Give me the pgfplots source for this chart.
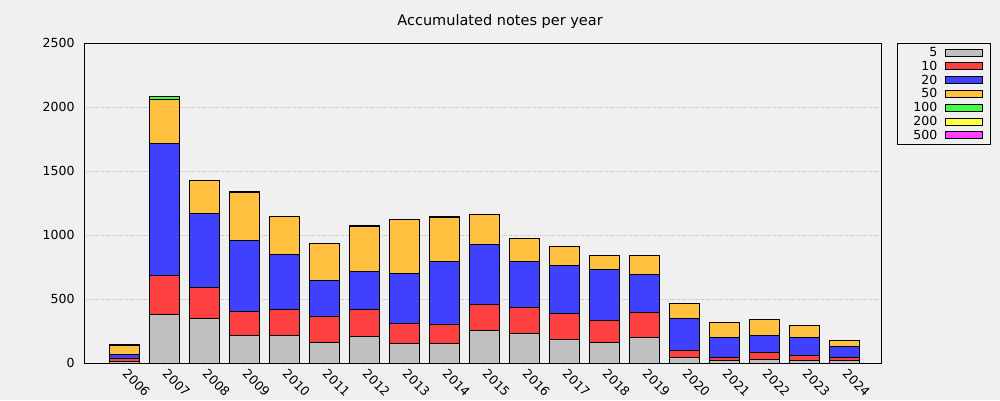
\documentclass[border=0pt]{standalone}
\usepackage{pgfplots}
\pgfplotsset{compat=1.18}
\usepackage{pgfplotstable}
\usepackage{fontspec}
\setmainfont{DejaVu Sans}
\definecolor{bg}{HTML}{F0F0F0}
\definecolor{cA}{HTML}{C0C0C0}
\definecolor{cB}{HTML}{FF4040}
\definecolor{cC}{HTML}{4040FF}
\definecolor{cD}{HTML}{FFC040}
\definecolor{cE}{HTML}{40FF40}
\definecolor{cF}{HTML}{FFFF40}
\definecolor{cG}{HTML}{FF40FF}
\pgfplotstableread{
year a b c d e f g
2006 10 27 31 70 8 0 0
2007 380 305 1031 346 22 0 0
2008 349 242 578 253 0 0 0
2009 216 188 554 375 8 0 0
2010 216 203 430 292 0 0 0
2011 162 203 281 289 0 0 0
2012 208 211 297 354 8 0 0
2013 154 156 391 422 0 0 0
2014 154 148 492 344 10 0 0
2015 255 203 469 235 0 0 0
2016 232 203 359 180 0 0 0
2017 185 203 375 148 0 0 0
2018 162 171 399 109 0 0 0
2019 201 195 297 148 0 0 0
2020 44 55 250 117 0 0 0
2021 21 23 157 117 0 0 0
2022 29 54 133 125 0 0 0
2023 21 39 141 93 0 0 0
2024 21 23 86 47 0 0 0
}\data
\newcommand{\lt}[1]{\makebox[31pt][r]{#1}}
\begin{document}
\begin{tikzpicture}
\fill[bg] (0,0) rectangle (1000pt,400pt);
\useasboundingbox (0,0) rectangle (1000pt,400pt);
\begin{axis}[
  at={(84pt,37pt)}, anchor=south west,
  scale only axis, width=797pt, height=320pt,
  axis background/.style={fill=bg},
  ybar stacked, bar width=30pt,
  xmin=2005, xmax=2024.925,
  ymin=0, ymax=2500,
  ytick={0,500,...,2500},
  xtick=data, xtick pos=lower,
  /pgf/number format/assume math mode=true,
  /pgf/number format/1000 sep={},
  tick label style={font=\fontsize{12.5}{14}\selectfont},
  xticklabel style={rotate=-45, anchor=north west, xshift=1.3pt, yshift=5.1pt},
  yticklabel style={xshift=-3pt},
  ymajorgrids, major grid style={dotted, gray!55, line width=1pt},
  axis line style={line width=1pt},
  ytick style={draw=none},
  xtick style={gray!35, line width=0.8pt},
  tick align=outside, major tick length=3pt,
  title={Accumulated notes per year},
  title style={font=\fontsize{14.5}{16}\selectfont, at={(0.522,1)}, anchor=south, yshift=5pt},
  every axis plot/.append style={draw=black, line width=1pt},
  legend style={at={(1.02,1)}, anchor=north west, draw=black, line width=0.8pt, fill=bg,
    font=\fontsize{12.5}{13}\selectfont, row sep=-1pt, inner xsep=7pt, inner ysep=2pt,
    column sep=6pt},
  legend cell align=right,
  legend plot pos=right,
  legend image code/.code={\draw[#1, line width=1pt] (0pt,-3.5pt) rectangle (37pt,3.5pt);},
]
\addplot[fill=cA] table[x=year,y=a]{\data};
\addplot[fill=cB] table[x=year,y=b]{\data};
\addplot[fill=cC] table[x=year,y=c]{\data};
\addplot[fill=cD] table[x=year,y=d]{\data};
\addplot[fill=cE] table[x=year,y=e]{\data};
\addplot[fill=cF] table[x=year,y=f]{\data};
\addplot[fill=cG] table[x=year,y=g]{\data};
\legend{\lt{5},\lt{10},\lt{20},\lt{50},\lt{100},\lt{200},\lt{500}}
\end{axis}
\end{tikzpicture}
\end{document}
